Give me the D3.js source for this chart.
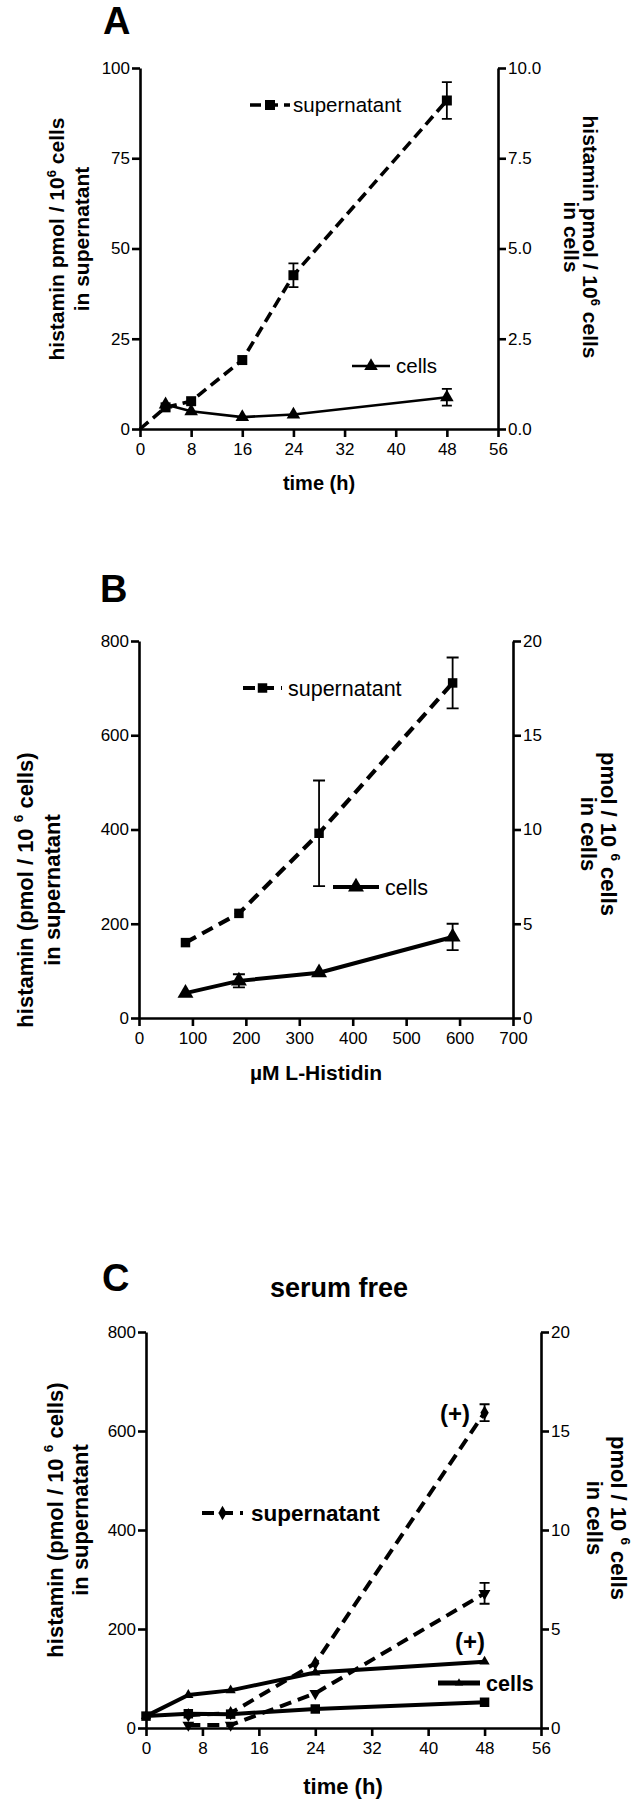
<!DOCTYPE html>
<html><head><meta charset="utf-8">
<script src="https://cdn.jsdelivr.net/npm/d3@7"></script>
<style>
body{margin:0;background:#fff}
svg{display:block}
text{font-family:"Liberation Sans",Arial,Helvetica,sans-serif;fill:#000}
</style>
</head><body>
<svg id="chart" width="643" height="1800"></svg>
<script>
// ---------------- DATA ----------------
// Panel A: time course (h)
const timeA = [0, 4, 8, 16, 24, 48];
const supernatantA = [0, 6.0, 7.7, 19.1, 42.6, 91.0];
const supernatantErrA = [0, 0, 0, 0, 3.3, 5.1];
const timeCellsA = [4, 8, 16, 24, 48];
const cellsA = [0.68, 0.49, 0.33, 0.40, 0.88];
const cellsErrA = [0, 0, 0, 0, 0.23];
const timeTicks = [0, 8, 16, 24, 32, 40, 48, 56];
const ticksA_left = [0, 25, 50, 75, 100];
const ticksA_right = [0, 2.5, 5, 7.5, 10];

// Panel B: µM L-Histidin
const histidinB = [87, 187, 337, 587];
const supernatantB = [160, 222, 392, 711];
const supernatantErrB = [0, 0, 112, 54];
const cellsB = [1.32, 1.97, 2.4, 4.3];
const cellsErrB = [0, 0.35, 0, 0.7];
const ticksB_x = [0, 100, 200, 300, 400, 500, 600, 700];
const ticksB_left = [0, 200, 400, 600, 800];
const ticksB_right = [0, 5, 10, 15, 20];

// Panel C: serum free time course
const timeC = [0, 6, 12, 24, 48];
const timeSupC = [6, 12, 24, 48];
const supernatantPlusC = [26, 30, 131, 637];
const supernatantPlusErrC = [0, 0, 0, 17];
const supernatantMinusC = [6, 6, 70, 272];
const supernatantMinusErrC = [0, 0, 0, 21];
const cellsPlusC = [0.6, 1.67, 1.9, 2.8, 3.35];
const cellsMinusC = [0.6, 0.72, 0.7, 0.96, 1.3];
const ticksC_left = [0, 200, 400, 600, 800];
const ticksC_right = [0, 5, 10, 15, 20];

// ---------------- DRAWING ----------------
const FONT = '"Liberation Sans", Arial, Helvetica, sans-serif';
const svg = d3.select('#chart');

function styleAxis(sel, fs) {
  sel.attr('font-size', fs).attr('font-family', FONT);
  sel.select('.domain').attr('stroke', '#000').attr('stroke-width', 2.6);
  sel.selectAll('.tick line').attr('stroke', '#000').attr('stroke-width', 2.6);
  sel.selectAll('.tick text').attr('fill', '#000');
}

function makePanel(p) {
  const g = svg.append('g');
  const x = d3.scaleLinear().domain(p.xDomain).range([p.left, p.right]);
  const yL = d3.scaleLinear().domain(p.yLDomain).range([p.bottom, p.top]);
  const yR = d3.scaleLinear().domain(p.yRDomain).range([p.bottom, p.top]);
  g.append('g').attr('transform', `translate(0,${p.bottom})`)
    .call(d3.axisBottom(x).tickValues(p.xTicks).tickSize(8).tickSizeOuter(0).tickPadding(6).tickFormat(d3.format('d')))
    .call(s => styleAxis(s, p.tickFs));
  g.append('g').attr('transform', `translate(${p.left},0)`)
    .call(d3.axisLeft(yL).tickValues(p.yLTicks).tickSize(8).tickSizeOuter(0).tickPadding(2).tickFormat(d3.format('d')))
    .call(s => styleAxis(s, p.tickFs));
  g.append('g').attr('transform', `translate(${p.right},0)`)
    .call(d3.axisRight(yR).tickValues(p.yRTicks).tickSize(8).tickSizeOuter(0).tickPadding(2).tickFormat(p.yRFmt))
    .call(s => styleAxis(s, p.tickFs));
  return {g, x, yL, yR};
}

function symbolPath(type, size) {
  const map = {square: d3.symbolSquare, triangle: d3.symbolTriangle, diamond: d3.symbolDiamond, tridown: d3.symbolTriangle};
  return d3.symbol().type(map[type]).size(size)();
}

function drawSeries(g, xs, ys, xS, yS, o) {
  const pts = xs.map((v, i) => [xS(v), yS(ys[i])]);
  g.append('path').attr('d', d3.line()(pts)).attr('fill', 'none')
    .attr('stroke', '#000').attr('stroke-width', o.w)
    .attr('stroke-dasharray', o.dash || null).attr('stroke-linejoin', 'round');
  if (o.err) {
    xs.forEach((v, i) => {
      const e = o.err[i];
      if (!e) return;
      const cx = xS(v), y1 = yS(ys[i] + e), y2 = yS(ys[i] - e), cw = o.cap || 5;
      g.append('path').attr('d', `M${cx},${y1}V${y2}M${cx - cw},${y1}H${cx + cw}M${cx - cw},${y2}H${cx + cw}`)
        .attr('stroke', '#000').attr('stroke-width', 1.8).attr('fill', 'none');
    });
  }
  if (o.marker) {
    xs.forEach((v, i) => {
      if (o.skip && o.skip.includes(i)) return;
      g.append('path').attr('d', symbolPath(o.marker, o.msize))
        .attr('transform', `translate(${xS(v)},${yS(ys[i])})` + (o.marker === 'tridown' ? ' rotate(180)' : ''))
        .attr('fill', '#000');
    });
  }
}

function legend(g, x1, x2, y, o, label, tx, fs, bold) {
  g.append('path').attr('d', `M${x1},${y}H${x2}`).attr('stroke', '#000')
    .attr('stroke-width', o.w).attr('stroke-dasharray', o.dash || null);
  if (o.marker) g.append('path').attr('d', symbolPath(o.marker, o.msize))
    .attr('transform', `translate(${(x1 + x2) / 2},${y})`).attr('fill', '#000');
  g.append('text').attr('x', tx).attr('y', y).attr('dy', '0.35em')
    .attr('font-size', fs).attr('font-weight', bold ? 'bold' : 'normal').text(label);
}

function vLabel(g, x, y, rot, parts, fs) {
  const t = g.append('text').attr('transform', `translate(${x},${y}) rotate(${rot})`)
    .attr('text-anchor', 'middle').attr('dy', '0.35em')
    .attr('font-size', fs).attr('font-weight', 'bold');
  parts.forEach(pt => {
    if (pt.sup) {
      t.append('tspan').attr('font-size', fs * 0.62).attr('dy', -fs * 0.42).text(pt.sup);
      t.append('tspan').attr('dy', fs * 0.42).text(pt.after);
    } else {
      t.append('tspan').text(pt.t);
    }
  });
}

function panelLetter(x, y, l) {
  svg.append('text').attr('x', x).attr('y', y).attr('font-size', 38).attr('font-weight', 'bold').text(l);
}

// ---- Panel A ----
panelLetter(103, 34, 'A');
{
  const {g, x, yL, yR} = makePanel({left: 140, right: 498, top: 68, bottom: 429,
    xDomain: [0, 56], yLDomain: [0, 100], yRDomain: [0, 10],
    xTicks: timeTicks, yLTicks: ticksA_left, yRTicks: ticksA_right, yRFmt: d3.format('.1f'), tickFs: 17});
  const supStyle = {w: 3.6, dash: '11,6', marker: 'square', msize: 100, cap: 5};
  const cellStyle = {w: 2.6, marker: 'triangle', msize: 80, cap: 5};
  drawSeries(g, timeA, supernatantA, x, yL, Object.assign({err: supernatantErrA, skip: [0]}, supStyle));
  drawSeries(g, timeCellsA, cellsA, x, yR, Object.assign({err: cellsErrA}, cellStyle));
  legend(g, 250, 290, 105, supStyle, 'supernatant', 293, 20.5, false);
  legend(g, 352, 390, 366, cellStyle, 'cells', 396, 20.5, false);
  g.append('text').attr('x', 319).attr('y', 483).attr('dy', '0.35em').attr('text-anchor', 'middle')
    .attr('font-size', 20).attr('font-weight', 'bold').text('time (h)');
  vLabel(g, 57, 239, -90, [{t: 'histamin pmol / 10'}, {sup: '6', after: ' cells'}], 21);
  vLabel(g, 82, 239, -90, [{t: 'in supernatant'}], 21);
  vLabel(g, 590, 237, 90, [{t: 'histamin pmol / 10'}, {sup: '6', after: ' cells'}], 21);
  vLabel(g, 571, 237, 90, [{t: 'in cells'}], 21);
}

// ---- Panel B ----
panelLetter(100, 602, 'B');
{
  const {g, x, yL, yR} = makePanel({left: 139, right: 513, top: 641, bottom: 1018,
    xDomain: [0, 700], yLDomain: [0, 800], yRDomain: [0, 20],
    xTicks: ticksB_x, yLTicks: ticksB_left, yRTicks: ticksB_right, yRFmt: d3.format('d'), tickFs: 17});
  const supStyle = {w: 4.2, dash: '12,7', marker: 'square', msize: 90, cap: 6};
  const cellStyle = {w: 4, marker: 'triangle', msize: 110, cap: 6};
  drawSeries(g, histidinB, supernatantB, x, yL, Object.assign({err: supernatantErrB}, supStyle));
  drawSeries(g, histidinB, cellsB, x, yR, Object.assign({err: cellsErrB}, cellStyle));
  legend(g, 243, 282, 688, supStyle, 'supernatant', 288, 21.5, false);
  legend(g, 333, 379, 887, cellStyle, 'cells', 385, 21.5, false);
  g.append('text').attr('x', 316).attr('y', 1073).attr('dy', '0.35em').attr('text-anchor', 'middle')
    .attr('font-size', 21).attr('font-weight', 'bold').text('µM L-Histidin');
  vLabel(g, 25, 890, -90, [{t: 'histamin (pmol / 10 '}, {sup: '6', after: ' cells)'}], 22);
  vLabel(g, 52, 890, -90, [{t: 'in supernatant'}], 22);
  vLabel(g, 609, 834, 90, [{t: 'pmol / 10 '}, {sup: '6', after: ' cells'}], 22);
  vLabel(g, 589, 834, 90, [{t: 'in cells'}], 22);
}

// ---- Panel C ----
panelLetter(102, 1291, 'C');
svg.append('text').attr('x', 339).attr('y', 1297).attr('text-anchor', 'middle')
  .attr('font-size', 27).attr('font-weight', 'bold').text('serum free');
{
  const {g, x, yL, yR} = makePanel({left: 146, right: 541, top: 1332, bottom: 1728,
    xDomain: [0, 56], yLDomain: [0, 800], yRDomain: [0, 20],
    xTicks: timeTicks, yLTicks: ticksC_left, yRTicks: ticksC_right, yRFmt: d3.format('d'), tickFs: 17});
  const supPlus = {w: 4, dash: '12,7', marker: 'diamond', msize: 60, cap: 5};
  const supMinus = {w: 4, dash: '12,7', marker: 'tridown', msize: 60, cap: 5};
  const cellPlus = {w: 4, marker: 'triangle', msize: 45};
  const cellMinus = {w: 4, marker: 'square', msize: 90};
  drawSeries(g, timeC, cellsPlusC, x, yR, cellPlus);
  drawSeries(g, timeC, cellsMinusC, x, yR, cellMinus);
  drawSeries(g, timeSupC, supernatantPlusC, x, yL, Object.assign({err: supernatantPlusErrC}, supPlus));
  drawSeries(g, timeSupC, supernatantMinusC, x, yL, Object.assign({err: supernatantMinusErrC}, supMinus));
  g.append('text').attr('x', 455).attr('y', 1414).attr('dy', '0.35em').attr('text-anchor', 'middle')
    .attr('font-size', 24).attr('font-weight', 'bold').text('(+)');
  g.append('text').attr('x', 470).attr('y', 1642).attr('dy', '0.35em').attr('text-anchor', 'middle')
    .attr('font-size', 24).attr('font-weight', 'bold').text('(+)');
  legend(g, 202, 243, 1513, supPlus, 'supernatant', 251, 22.5, true);
  legend(g, 438, 480, 1683, {w: 5, marker: 'triangle', msize: 30}, 'cells', 486, 21.5, true);
  g.append('text').attr('x', 343).attr('y', 1786).attr('dy', '0.35em').attr('text-anchor', 'middle')
    .attr('font-size', 22).attr('font-weight', 'bold').text('time (h)');
  vLabel(g, 55, 1520, -90, [{t: 'histamin (pmol / 10 '}, {sup: '6', after: ' cells)'}], 22);
  vLabel(g, 80, 1520, -90, [{t: 'in supernatant'}], 22);
  vLabel(g, 619, 1518, 90, [{t: 'pmol / 10 '}, {sup: '6', after: ' cells'}], 22);
  vLabel(g, 595, 1518, 90, [{t: 'in cells'}], 22);
}
</script>
</body></html>
